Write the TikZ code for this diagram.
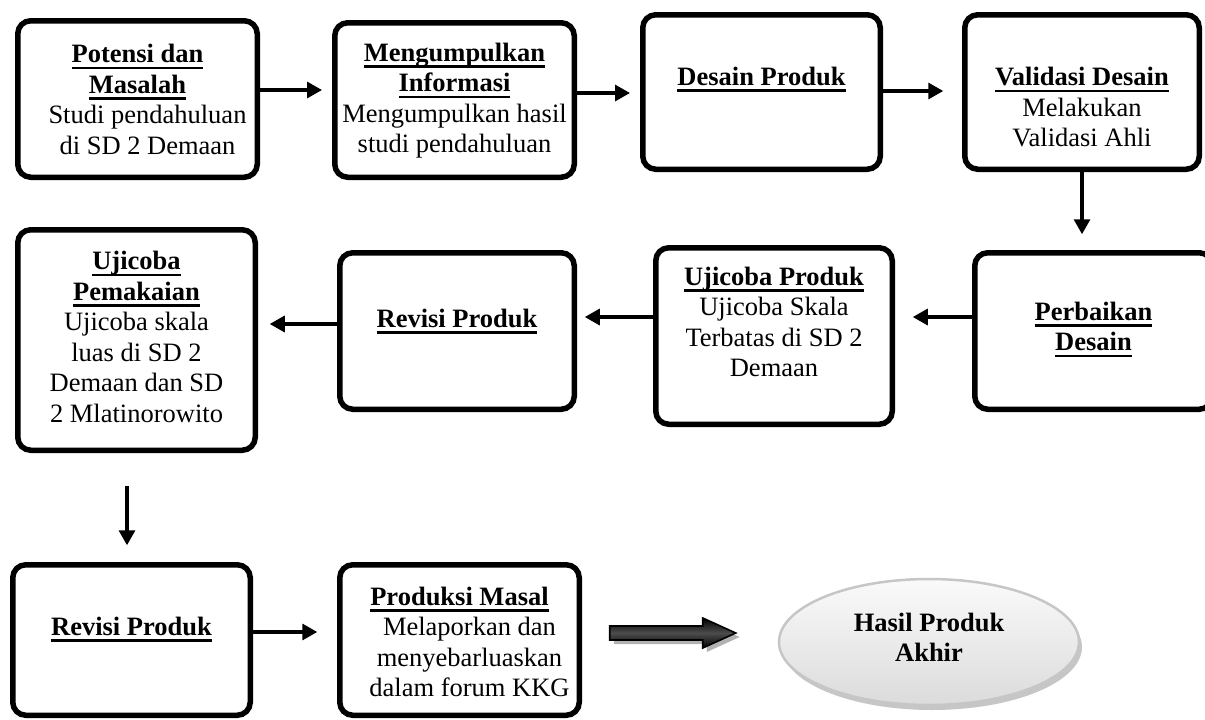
\documentclass[tikz,border=0pt]{standalone}
\usepackage{fontspec}
\setmainfont{Liberation Serif}
\usetikzlibrary{shapes.geometric,arrows.meta,shadows}
\newsavebox{\hdbox}
\newcommand{\hd}[1]{\sbox{\hdbox}{\textbf{#1}}\usebox{\hdbox}\llap{\rule[-6.5pt]{\wd\hdbox}{2.6pt}}}
\newcommand{\padl}{\hspace*{20pt}}

\tikzset{
  stepbox/.style={draw, line width=5.5pt, rounded corners=13pt, minimum width=237.5pt, inner sep=0pt},
  steptext/.style={align=center, inner sep=0pt, font=\fontsize{26.5}{30.5}\selectfont},
  flow/.style={-{Triangle[length=15pt,width=16pt]}, line width=3.2pt},
  bigarrow/.style={draw=black, line width=1.6pt, top color=black, bottom color=black, middle color=black!70,
    drop shadow={shadow xshift=4pt, shadow yshift=-4pt, fill=gray!60, opacity=1}},
  endnode/.style={ellipse, draw=gray!45, line width=2.5pt, top color=gray!4, bottom color=gray!28,
    minimum width=300pt, minimum height=126pt, inner sep=0pt, align=center,
    font=\fontsize{26.5}{30}\selectfont\bfseries,
    drop shadow={shadow xshift=3pt, shadow yshift=-5pt, fill=gray!45, opacity=1}},
}

\begin{document}
\begin{tikzpicture}[x=1pt, y=-1pt]
    \useasboundingbox (0,0) rectangle (1205,720);

    % first row
    \node[stepbox, minimum width=239.5pt, minimum height=156.5pt] (potensi) at (137.5,99) {};
    \node[stepbox, minimum width=239.5pt, minimum height=154.5pt] (informasi) at (454.5,100) {};
    \node[stepbox, minimum height=154.5pt] (desain) at (761.5,92) {};
    \node[stepbox, minimum width=234.5pt, minimum height=154.5pt] (validasi) at (1082,92) {};

    \node[steptext] (potensi-t) at (137.5,99.5) {\hd{Potensi dan}\\\hd{Masalah}\\\padl Studi pendahuluan\\\padl di SD 2 Demaan};
    \node[steptext] (informasi-t) at (454.5,100.5) {\hd{Mengumpulkan}\\\hd{Informasi}\\Mengumpulkan hasil\\studi pendahuluan};
    \node[steptext] (desain-t) at (761.5,79.5) {\hd{Desain Produk}};
    \node[steptext] (validasi-t) at (1082,107.5) {\hd{Validasi Desain}\\Melakukan\\Validasi Ahli};

    % second row
    \node[stepbox, minimum height=156.5pt] (perbaikan) at (1093.5,331) {};
    \node[stepbox, minimum width=236.5pt, minimum height=176.5pt] (ujiproduk) at (774,336) {};
    \node[stepbox, minimum width=234.5pt, minimum height=156.5pt] (revisi) at (457,331) {};
    \node[stepbox, minimum height=220.5pt] (pemakaian) at (136.5,340) {};

    \node[steptext] (perbaikan-t) at (1093.5,329.5) {\hd{Perbaikan}\\\hd{Desain}};
    \node[steptext] (ujiproduk-t) at (774,322) {\hd{Ujicoba Produk}\\Ujicoba Skala\\Terbatas di SD 2\\Demaan};
    \node[steptext] (revisi-t) at (457,321.5) {\hd{Revisi Produk}};
    \node[steptext] (pemakaian-t) at (136.5,337) {\hd{Ujicoba}\\\hd{Pemakaian}\\Ujicoba skala\\luas di SD 2\\Demaan dan SD\\2 Mlatinorowito};

    % third row
    \node[stepbox, minimum height=150.5pt] (revisiakhir) at (131.5,640) {};
    \node[stepbox, minimum width=239.5pt, minimum height=150.5pt] (produksi) at (459.5,640) {};
    \node[endnode] (hasil) at (929,642) {Hasil Produk\\Akhir\\[-20pt]};

    \node[steptext] (revisiakhir-t) at (131.5,629.5) {\hd{Revisi Produk}};
    \node[steptext] (produksi-t) at (459.5,642) {\hd{Produksi Masal}\\\padl Melaporkan dan\\\padl menyebarluaskan\\\padl dalam forum KKG};

    % arrows
    \draw[flow, shorten >=10pt] ([yshift=9pt]potensi.east) -- ([yshift=9pt]potensi.east -| informasi.west);
    \draw[flow, shorten >=10pt] ([yshift=7pt]informasi.east) -- ([yshift=7pt]informasi.east -| desain.west);
    \draw[flow, shorten >=18.75pt] ([yshift=1pt]desain.east) -- ([yshift=1pt]desain.east -| validasi.west);
    \draw[flow, shorten >=15.75pt] (validasi.south) -- (validasi.south |- perbaikan.north);
    \draw[flow, shorten >=17.75pt] ([yshift=14pt]perbaikan.west) -- ([yshift=14pt]perbaikan.west -| ujiproduk.east);
    \draw[flow, shorten >=7.75pt] ([yshift=19pt]ujiproduk.west) -- ([yshift=19pt]ujiproduk.west -| revisi.east);
    \draw[flow, shorten >=11.75pt] ([yshift=7pt]revisi.west) -- ([yshift=7pt]revisi.west -| pemakaian.east);
    \draw[flow, shorten <=32.75pt, shorten >=16.75pt] ([xshift=-9.5pt]pemakaian.south) -- ([xshift=-9.5pt]pemakaian.south |- revisiakhir.north);
    \draw[flow, shorten >=19.75pt] ([yshift=8pt]revisiakhir.east) -- ([yshift=8pt]revisiakhir.east -| produksi.west);

    % block arrow to the result
    \coordinate (masal-out) at ([xshift=27.75pt, yshift=7pt]produksi.east);
    \path[bigarrow] (masal-out) ++(0,-7) -- ++(93,0) -- ++(0,-8) -- ++(33,15) -- ++(-33,15) -- ++(0,-8) -- ++(-93,0) -- cycle;

\end{tikzpicture}
\end{document}
